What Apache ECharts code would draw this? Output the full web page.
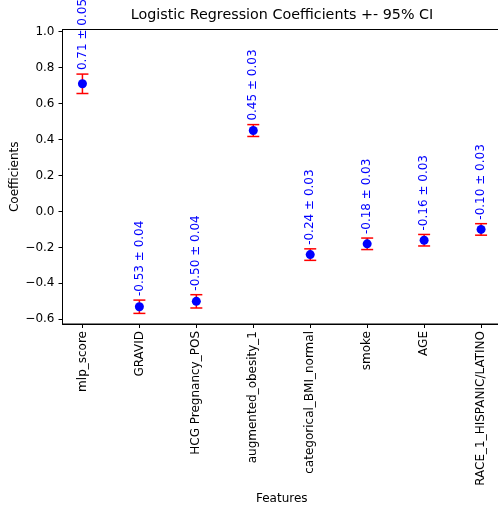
<!DOCTYPE html>
<html><head><meta charset="utf-8">
<script src="https://cdn.jsdelivr.net/npm/echarts@6/dist/echarts.min.js"></script>
<style>html,body{margin:0;padding:0;background:#fff}#c{width:498px;height:508px}</style>
</head><body><div id="c"></div>
<script>
const features = ['mlp_score','GRAVID','HCG Pregnancy_POS','augmented_obesity_1','categorical_BMI_normal','smoke','AGE','RACE_1_HISPANIC/LATINO'];
const coefs = [0.71, -0.53, -0.50, 0.45, -0.24, -0.18, -0.16, -0.10];
const ci = [0.054, 0.037, 0.037, 0.033, 0.032, 0.032, 0.032, 0.032];
const yTicks = [-0.6, -0.4, -0.2, 0.0, 0.2, 0.4, 0.6, 0.8, 1.0];
const xTicks = [0, 1, 2, 3, 4, 5, 6, 7];

const FONT = 'DejaVu Sans';
const chart = echarts.init(document.getElementById('c'), null, {renderer: 'canvas'});
const errData = xTicks.map(i => [i, coefs[i], ci[i]]);
const ptData = xTicks.map(i => [i, coefs[i]]);

chart.setOption({
  animation: false,
  backgroundColor: '#fff',
  title: {
    text: 'Logistic Regression Coefficients +- 95% CI',
    left: 282, top: 8, textAlign: 'center', padding: 0,
    textStyle: {fontFamily: FONT, fontSize: 14.3, fontWeight: 'normal', color: '#000'}
  },
  grid: {left: 62.5, top: 29.5, width: 438.5, bottom: 184, show: true, borderColor: '#000', borderWidth: 1,
    containLabel: false, outerBoundsMode: 'none'},
  xAxis: {
    type: 'value', min: -0.35, max: 7.35,
    name: 'Features', nameLocation: 'middle', nameGap: 169, nameMoveOverlap: false,
    nameTextStyle: {fontFamily: FONT, fontSize: 12, color: '#000'},
    axisLine: {show: true, onZero: false, lineStyle: {color: '#000', width: 1}},
    axisTick: {show: true, length: 4, customValues: xTicks, lineStyle: {color: '#000'}},
    axisLabel: {customValues: xTicks, rotate: 90, margin: 7, fontFamily: FONT, fontSize: 12, color: '#000',
      formatter: v => features[Math.round(v)]},
    splitLine: {show: false}
  },
  yAxis: {
    type: 'value', min: -0.626, max: 1.012,
    name: 'Coefficients', nameLocation: 'middle', nameGap: 42, nameRotate: 90, nameMoveOverlap: false,
    nameTextStyle: {fontFamily: FONT, fontSize: 12, color: '#000'},
    axisLine: {show: true, onZero: false, lineStyle: {color: '#000', width: 1}},
    axisTick: {show: true, length: 4, customValues: yTicks, lineStyle: {color: '#000'}},
    axisLabel: {customValues: yTicks, margin: 8, fontFamily: FONT, fontSize: 12, color: '#000',
      formatter: v => v.toFixed(1).replace('-', '\u2212')},
    splitLine: {show: false}
  },
  series: [
    {
      type: 'custom',
      clip: false,
      data: errData,
      z: 2,
      renderItem: function (params, api) {
        const x = api.value(0), v = api.value(1), e = api.value(2);
        const top = api.coord([x, v + e]);
        const bot = api.coord([x, v - e]);
        const hw = 6;
        const st = {stroke: '#ff0000', lineWidth: 1.5};
        return {
          type: 'group',
          children: [
            {type: 'line', shape: {x1: top[0], y1: top[1], x2: bot[0], y2: bot[1]}, style: st},
            {type: 'line', shape: {x1: top[0] - hw, y1: top[1], x2: top[0] + hw, y2: top[1]}, style: st},
            {type: 'line', shape: {x1: bot[0] - hw, y1: bot[1], x2: bot[0] + hw, y2: bot[1]}, style: st},
            {type: 'text', x: top[0], y: top[1] - 4, rotation: Math.PI / 2,
              style: {text: v.toFixed(2) + ' \u00b1 ' + e.toFixed(2), fill: '#0000ff',
                font: '12px "DejaVu Sans"', align: 'left', verticalAlign: 'middle'}}
          ]
        };
      }
    },
    {
      type: 'scatter',
      data: ptData,
      symbol: 'circle',
      symbolSize: 9,
      z: 3,
      itemStyle: {color: '#0000ff', opacity: 1}
    }
  ]
});
</script>
</body></html>
